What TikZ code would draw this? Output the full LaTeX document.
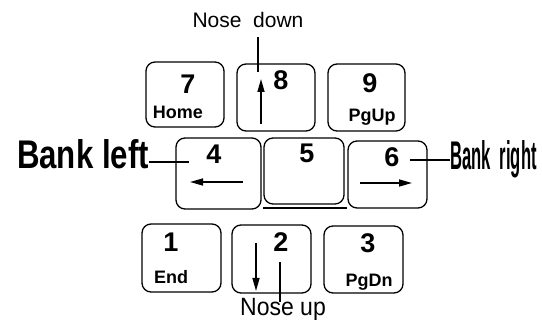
\documentclass[tikz,border=0pt]{standalone}
\usepackage{fontspec}
\setmainfont{Liberation Sans}
\usetikzlibrary{arrows.meta}
\begin{document}
\begin{tikzpicture}[x=1pt,y=-1pt,
  key/.style={draw,line width=1.3pt,rounded corners=9pt,inner sep=0pt},
  dig/.style={font=\fontsize{27}{27}\selectfont\bfseries,inner sep=0pt},
  lab/.style={font=\fontsize{18}{18}\selectfont\bfseries,inner sep=0pt,anchor=base},
  conn/.style={line width=1.8pt},
  arr/.style={line width=1.5pt,-{Triangle[length=13pt,width=7pt]}}]
\useasboundingbox (0,0) rectangle (542,320);
% keys
\node[key,minimum width=78pt,minimum height=65pt] (k7) at (185,94.5) {};
\node[key,minimum width=78pt,minimum height=67pt] (k8) at (276,97.5) {};
\node[key,minimum width=77pt,minimum height=67pt] (k9) at (366.5,97.5) {};
\node[key,minimum width=85pt,minimum height=71pt] (k4) at (218.5,173.5) {};
\node[key,minimum width=80pt,minimum height=66pt] (k5) at (304,171) {};
\node[key,minimum width=79pt,minimum height=67pt] (k6) at (387.5,174.5) {};
\node[key,minimum width=79pt,minimum height=68pt] (k1) at (181.5,258) {};
\node[key,minimum width=79pt,minimum height=68pt] (k2) at (271.5,259) {};
\node[key,minimum width=79pt,minimum height=67pt] (k3) at (363.5,259.5) {};
% underline below 5
\coordinate (u1) at (263,208);
\coordinate (u2) at (347,208);
\draw[line width=2pt] (u1) -- (u2);
% key texts
\node[dig] (d7) at (188,84) {7};
\node[lab] (l7) at (178,119) {Home};
\node[dig] (d8) at (281,80) {8};
\node[dig] (d9) at (370,83) {9};
\node[lab] (l9) at (372,122) {PgUp};
\node[dig] (d4) at (214,154) {4};
\node[dig] (d5) at (307,153) {5};
\node[dig] (d6) at (392,157) {6};
\node[dig] (d1) at (171,242) {1};
\node[lab] (l1) at (171,284) {End};
\node[dig] (d2) at (281,242) {2};
\node[dig] (d3) at (368,243) {3};
\node[lab] (l3) at (369,287) {PgDn};
% arrows inside keys
\coordinate (a8t) at (261,124); \coordinate (a8h) at (261,79);
\draw[arr] (a8t) -- (a8h);
\coordinate (a4t) at (243,182); \coordinate (a4h) at (190,182);
\draw[arr] (a4t) -- (a4h);
\coordinate (a6t) at (360,183); \coordinate (a6h) at (412,183);
\draw[arr] (a6t) -- (a6h);
\coordinate (a2t) at (256,243); \coordinate (a2h) at (256,291);
\draw[arr] (a2t) -- (a2h);
% callouts
\node[font=\fontsize{21}{21}\selectfont,inner sep=0pt,anchor=base] (nd) at (248,28) {Nose\ \ down};
\coordinate (ndend) at (258,72);
\draw[conn] (258,37) -- (ndend);
\node[font=\fontsize{25}{25}\selectfont,inner sep=0pt,anchor=base,xscale=0.92] (nu) at (283,316) {Nose up};
\coordinate (nutop) at (280,262);
\draw[conn] (nutop) -- (280,302);
\node[font=\fontsize{40}{40}\selectfont\bfseries,inner sep=0pt,anchor=base east,xscale=0.78] (bl) at (149,169) {Bank left};
\coordinate (blend) at (189,162);
\draw[conn] (bl.east |- blend) -- (blend);
\node[font=\fontsize{40}{40}\selectfont\bfseries,inner sep=0pt,anchor=base west,xscale=0.415] (br) at (450,170) {Bank\ \ right};
\coordinate (brend) at (410,160);
\draw[conn] (brend) -- (br.west |- brend);
\end{tikzpicture}
\end{document}
